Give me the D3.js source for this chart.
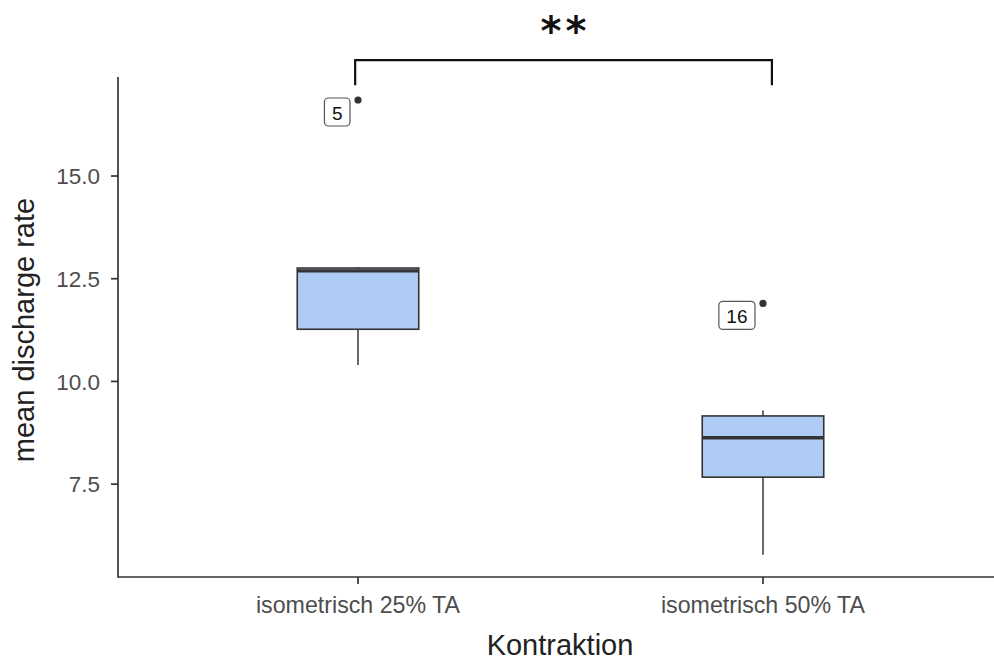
<!DOCTYPE html>
<html>
<head>
<meta charset="utf-8">
<script src="https://cdn.jsdelivr.net/npm/d3@7"></script>
<style>
  html, body { margin: 0; padding: 0; background: #fff; }
  svg { display: block; font-family: "Liberation Sans", Arial, Helvetica, sans-serif; }
</style>
</head>
<body>
<svg id="chart" width="994" height="660"></svg>
<script>
// Groups on the x axis
const categories = ["isometrisch 25% TA", "isometrisch 50% TA"];

// Five-number summaries per group (whisker low, Q1, median, Q3, whisker high)
const whiskerLow  = [10.40, 5.78];
const q1          = [11.27, 7.67];
const median      = [12.69, 8.63];
const q3          = [12.76, 9.16];
const whiskerHigh = [12.78, 9.29];

// Outliers, with the observation id shown in the label
const outlierGroup = [0, 1];
const outlierValue = [16.85, 11.90];
const outlierId    = ["5", "16"];

// Y axis ticks
const yTicks = [7.5, 10.0, 12.5, 15.0];

// Significance bracket between the two groups
const bracketFrom = 0.993;
const bracketTo   = 2.022;
const bracketY    = 17.82;
const bracketTip  = 17.21;
const bracketText = "**";

const svg = d3.select("#chart");

// Panel geometry
const panelLeft = 118, panelRight = 994, panelTop = 77, panelBottom = 577;

// Category index (1, 2) mapped to pixels, with the discrete padding on either side
const x = d3.scaleLinear().domain([0.4, 2.6]).range([115, 1006]);
const y = d3.scaleLinear().domain([5.24, 17.41]).range([panelBottom, panelTop]);
const boxWidth = 0.3;

const axisColor = "#333";
const tickTextColor = "#4d4d4d";

// Boxes
const groups = categories.map((c, i) => ({
  idx: i + 1, lo: whiskerLow[i], q1: q1[i], med: median[i], q3: q3[i], hi: whiskerHigh[i]
}));

const g = svg.append("g");
const box = g.selectAll("g.box").data(groups).join("g").attr("class", "box");

// whiskers
box.append("line")
  .attr("x1", d => x(d.idx)).attr("x2", d => x(d.idx))
  .attr("y1", d => y(d.q3)).attr("y2", d => y(d.hi))
  .attr("stroke", "#444").attr("stroke-width", 1.6);
box.append("line")
  .attr("x1", d => x(d.idx)).attr("x2", d => x(d.idx))
  .attr("y1", d => y(d.q1)).attr("y2", d => y(d.lo))
  .attr("stroke", "#444").attr("stroke-width", 1.6);

// interquartile box
box.append("rect")
  .attr("x", d => x(d.idx - boxWidth / 2))
  .attr("width", d => x(d.idx + boxWidth / 2) - x(d.idx - boxWidth / 2))
  .attr("y", d => y(d.q3))
  .attr("height", d => y(d.q1) - y(d.q3))
  .attr("fill", "#aecbf3")
  .attr("stroke", "#333").attr("stroke-width", 1.6);

// median
box.append("line")
  .attr("x1", d => x(d.idx - boxWidth / 2)).attr("x2", d => x(d.idx + boxWidth / 2))
  .attr("y1", d => y(d.med)).attr("y2", d => y(d.med))
  .attr("stroke", "#333").attr("stroke-width", 3.4);

// Outliers and their id labels
const outliers = outlierValue.map((v, i) => ({ idx: outlierGroup[i] + 1, v, id: outlierId[i] }));

g.selectAll("circle.out").data(outliers).join("circle")
  .attr("class", "out")
  .attr("cx", d => x(d.idx)).attr("cy", d => y(d.v))
  .attr("r", 3.6).attr("fill", "#333");

const lab = g.selectAll("g.lab").data(outliers).join("g").attr("class", "lab");
lab.each(function (d) {
  const sel = d3.select(this);
  const t = sel.append("text")
    .text(d.id)
    .attr("font-size", 19)
    .attr("fill", "#111")
    .attr("text-anchor", "middle")
    .attr("dominant-baseline", "central");
  const w = t.node().getComputedTextLength() + 15;
  const h = 28;
  const right = x(d.idx) - 8;
  const top = y(d.v) - 2;
  sel.insert("rect", "text")
    .attr("x", right - w).attr("y", top)
    .attr("width", w).attr("height", h)
    .attr("rx", 4).attr("ry", 4)
    .attr("fill", "#fff").attr("stroke", "#555").attr("stroke-width", 1.2);
  t.attr("x", right - w / 2).attr("y", top + h / 2 + 1);
});

// Axes lines
svg.append("line")
  .attr("x1", panelLeft).attr("x2", panelRight)
  .attr("y1", panelBottom).attr("y2", panelBottom)
  .attr("stroke", axisColor).attr("stroke-width", 1.7);
svg.append("line")
  .attr("x1", panelLeft).attr("x2", panelLeft)
  .attr("y1", panelTop).attr("y2", panelBottom + 0.8)
  .attr("stroke", axisColor).attr("stroke-width", 1.7);

// Y ticks and labels
const yt = svg.append("g");
yt.selectAll("line").data(yTicks).join("line")
  .attr("x1", panelLeft - 7).attr("x2", panelLeft)
  .attr("y1", d => y(d)).attr("y2", d => y(d))
  .attr("stroke", axisColor).attr("stroke-width", 1.7);
yt.selectAll("text").data(yTicks).join("text")
  .attr("x", panelLeft - 18)
  .attr("y", d => y(d))
  .attr("dy", "0.36em")
  .attr("text-anchor", "end")
  .attr("font-size", 22.5)
  .attr("fill", tickTextColor)
  .text(d => d3.format(".1f")(d));

// X ticks and labels
const xt = svg.append("g");
xt.selectAll("line").data(categories).join("line")
  .attr("x1", (d, i) => x(i + 1)).attr("x2", (d, i) => x(i + 1))
  .attr("y1", panelBottom).attr("y2", panelBottom + 7)
  .attr("stroke", axisColor).attr("stroke-width", 1.7);
xt.selectAll("text").data(categories).join("text")
  .attr("x", (d, i) => x(i + 1))
  .attr("y", 613)
  .attr("text-anchor", "middle")
  .attr("font-size", 23.2)
  .attr("fill", tickTextColor)
  .text(d => d);

// Axis titles
svg.append("text")
  .attr("x", (panelLeft + panelRight) / 2 + 4)
  .attr("y", 655)
  .attr("text-anchor", "middle")
  .attr("font-size", 29)
  .attr("fill", "#222")
  .text("Kontraktion");

svg.append("text")
  .attr("transform", `translate(34, ${(panelTop + panelBottom) / 2 + 3}) rotate(-90)`)
  .attr("text-anchor", "middle")
  .attr("font-size", 29)
  .attr("fill", "#222")
  .text("mean discharge rate");

// Significance bracket
svg.append("path")
  .attr("d", d3.line()([
    [x(bracketFrom), y(bracketTip)],
    [x(bracketFrom), y(bracketY)],
    [x(bracketTo), y(bracketY)],
    [x(bracketTo), y(bracketTip)]
  ]))
  .attr("fill", "none")
  .attr("stroke", "#111").attr("stroke-width", 2.2);

// significance stars, spaced apart and centred over the bracket
svg.append("text")
  .attr("x", (x(bracketFrom) + x(bracketTo)) / 2 + 2)
  .attr("y", y(bracketY) - 15)
  .attr("text-anchor", "middle")
  .attr("font-family", "'DejaVu Sans', sans-serif")
  .attr("font-size", 40)
  .attr("font-weight", "bold")
  .attr("letter-spacing", 4)
  .attr("fill", "#111")
  .text(bracketText);
</script>
</body>
</html>
